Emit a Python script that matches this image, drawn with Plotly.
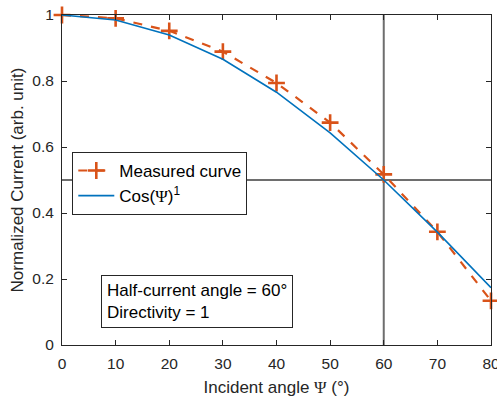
import numpy as np
import plotly.graph_objects as go

angles = [0, 10, 20, 30, 40, 50, 60, 70, 80]
measured = [1.0, 0.99, 0.952, 0.889, 0.794, 0.674, 0.517, 0.343, 0.134]
cos_vals = [float(np.cos(np.radians(a))) for a in angles]
x_ticks = [0, 10, 20, 30, 40, 50, 60, 70, 80]
y_ticks = [0, 0.2, 0.4, 0.6, 0.8, 1]
y_labels = ["0", "0.2", "0.4", "0.6", "0.8", "1"]
half_angle = 60
half_current = 0.5

orange = "#D95319"
blue = "#0072BD"
font = "Liberation Sans, Arial, sans-serif"
psi = "<span style='font-family:Liberation Serif'>Ψ</span>"

fig = go.Figure()
fig.add_trace(go.Scatter(
    x=angles, y=measured, mode="lines+markers", name="Measured curve",
    line=dict(color=orange, width=2.2, dash="dash"),
    marker=dict(symbol="cross-thin", size=12, line=dict(color=orange, width=2.6)),
    cliponaxis=False,
))
fig.add_trace(go.Scatter(
    x=angles, y=cos_vals, mode="lines", name="Cos(" + psi + ")<sup>1</sup>",
    line=dict(color=blue, width=1.6),
))

fig.add_shape(type="line", xref="x", yref="paper", x0=half_angle, x1=half_angle, y0=0, y1=1,
              line=dict(color="#6e6e6e", width=2), layer="below")
fig.add_shape(type="line", xref="paper", yref="y", x0=0, x1=1, y0=half_current, y1=half_current,
              line=dict(color="#6e6e6e", width=2), layer="below")

fig.add_annotation(
    xref="paper", yref="paper", x=0.091, y=0.212, xanchor="left", yanchor="top",
    text="Half-current angle = 60°<br>Directivity = 1", showarrow=False, align="left",
    font=dict(family=font, size=17, color="#000000"),
    bordercolor="#262626", borderwidth=1, borderpad=5, bgcolor="white",
)

axis_common = dict(
    showgrid=False, zeroline=False, showline=True, linecolor="#262626", linewidth=1,
    mirror="ticks", ticks="inside", ticklen=5, tickcolor="#262626",
    tickfont=dict(family=font, size=15.5, color="#262626"),
    ticklabeloverflow="allow", automargin=False, ticklabelstandoff=4,
)

fig.update_layout(
    width=497, height=399,
    margin=dict(l=62, r=6, t=15, b=54),
    paper_bgcolor="white", plot_bgcolor="white",
    font=dict(family=font, color="#262626"),
    xaxis=dict(range=[0, 80], tickvals=x_ticks,
               title=dict(text="Incident angle " + psi + " (°)", font=dict(family=font, size=17, color="#262626"), standoff=10),
               **axis_common),
    yaxis=dict(range=[0, 1], tickvals=y_ticks, ticktext=y_labels,
               title=dict(text="Normalized Current (arb. unit)", font=dict(family=font, size=17, color="#262626"), standoff=4),
               **axis_common),
    legend=dict(x=0.024, y=0.585, xanchor="left", yanchor="top",
                bordercolor="#262626", borderwidth=1, bgcolor="white",
                font=dict(family=font, size=17, color="#000000"),
                tracegroupgap=0, itemwidth=36),
    showlegend=True,
)

fig.write_html("out.html")
